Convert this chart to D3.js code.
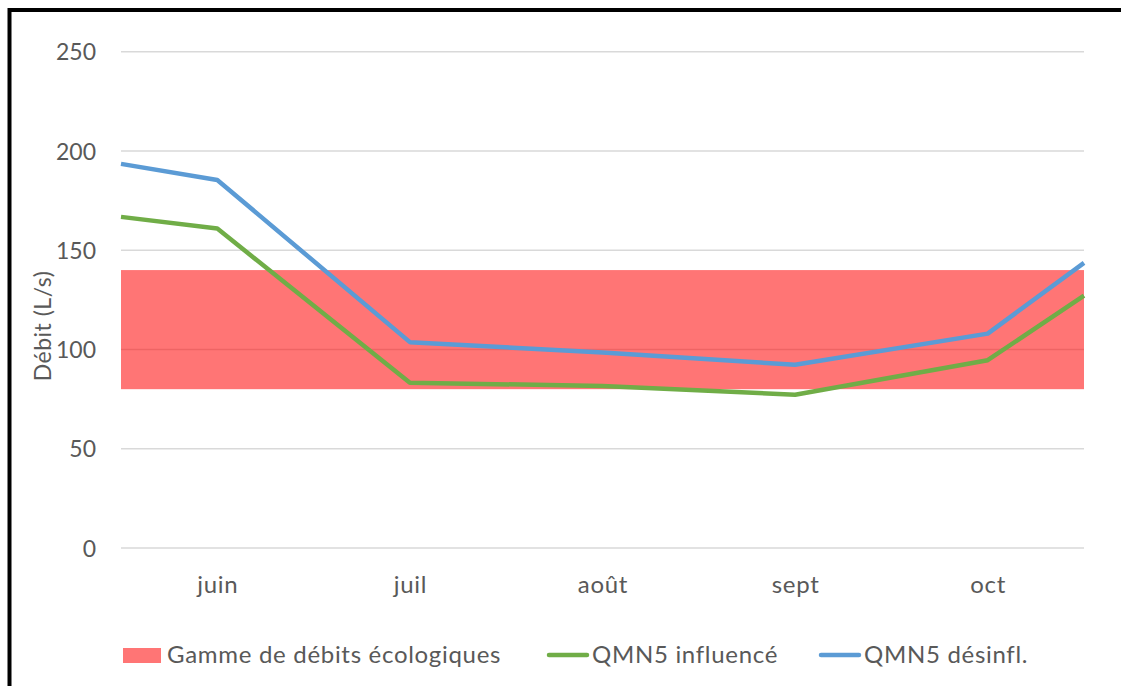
<!DOCTYPE html>
<html><head><meta charset="utf-8">
<script src="https://cdn.jsdelivr.net/npm/d3@7"></script>
<style>
html,body{margin:0;padding:0;background:#fff;}
svg{display:block;}
text{font-family:Lato,"Open Sans",sans-serif;fill:#595959;}
</style></head>
<body>
<svg id="chart" width="1121" height="686"></svg>
<script>
// Data
const categories = ["juin", "juil", "août", "sept", "oct"];
// line positions: plot edge (start), category centres, plot edge (end)
const xPositions = [-0.5, 0, 1, 2, 3, 4, 4.5];
const influence = [166.8, 160.9, 83.3, 81.6, 77.2, 94.6, 127.1];
const desinfl = [193.5, 185.4, 103.7, 98.5, 92.3, 108.0, 143.6];
const bandLow = 80;
const bandHigh = 140;
const yTicks = [0, 50, 100, 150, 200, 250];
const seriesNames = ["Gamme de débits écologiques", "QMN5 influencé", "QMN5 désinfl."];
const colors = {band: "rgba(255,0,0,0.54)", legendBand: "#FF7575", influence: "#70AD47", desinfl: "#5B9BD5"};

(function () {
const svg = d3.select("#chart");
const W = 1121, H = 686;
const pLeft = 121, pRight = 1084, pTop = 51.7, pBottom = 548;
const FONT = "Lato, 'Open Sans', sans-serif";

// frame
svg.append("rect").attr("x", 9.5).attr("y", 10).attr("width", W + 20).attr("height", H + 20)
  .attr("fill", "none").attr("stroke", "#000").attr("stroke-width", 4);

const x = d3.scaleLinear().domain([-0.5, 4.5]).range([pLeft, pRight]);
const y = d3.scaleLinear().domain([0, 250]).range([pBottom, pTop]);

// gridlines
svg.append("g").selectAll("line").data(yTicks).join("line")
  .attr("x1", pLeft).attr("x2", pRight)
  .attr("y1", d => y(d)).attr("y2", d => y(d))
  .attr("stroke", "#d9d9d9").attr("stroke-width", 1.5);

// band
svg.append("rect").attr("x", pLeft).attr("width", pRight - pLeft)
  .attr("y", y(bandHigh)).attr("height", y(bandLow) - y(bandHigh))
  .attr("fill", colors.band);

// y axis
const yAxis = d3.axisLeft(y).tickValues(yTicks).tickSize(0).tickPadding(0);
const gy = svg.append("g").attr("transform", `translate(96,0)`).call(yAxis);
gy.select(".domain").remove();
gy.selectAll("text").attr("font-size", 23).attr("dy", "0.35em")
  .style("font-family", FONT).attr("fill", "#595959");

// x axis
const xAxis = d3.axisBottom(x).tickValues(d3.range(categories.length))
  .tickFormat(i => categories[i]).tickSize(0).tickPadding(0);
const gx = svg.append("g").attr("transform", `translate(0,585)`).call(xAxis);
gx.select(".domain").remove();
gx.selectAll("text").attr("font-size", 24).attr("dy", "0.35em")
  .attr("letter-spacing", 0.7)
  .style("font-family", FONT).attr("fill", "#595959");

// axis title
svg.append("text").attr("transform", "translate(43,326) rotate(-90)")
  .attr("text-anchor", "middle").attr("dy", "0.35em").attr("font-size", 23)
  .attr("letter-spacing", 0.5)
  .text("Débit (L/s)");

// lines
const line = d3.line().x(d => x(d[0])).y(d => y(d[1]));
[[influence, colors.influence], [desinfl, colors.desinfl]].forEach(([vals, c]) => {
  svg.append("path").datum(xPositions.map((p, i) => [p, vals[i]]))
    .attr("d", line).attr("fill", "none").attr("stroke", c)
    .attr("stroke-width", 4.5).attr("stroke-linejoin", "round");
});

// legend
const ly = 655;
const legendText = (xx, t) => svg.append("text").attr("x", xx).attr("y", ly).attr("dy", "0.33em")
  .attr("font-size", 24).attr("letter-spacing", 0.7).text(t);
svg.append("rect").attr("x", 123).attr("y", 648).attr("width", 38).attr("height", 15).attr("fill", colors.legendBand);
legendText(167, seriesNames[0]);
svg.append("line").attr("x1", 549).attr("x2", 587).attr("y1", ly).attr("y2", ly)
  .attr("stroke", colors.influence).attr("stroke-width", 4.5).attr("stroke-linecap", "round");
legendText(592, seriesNames[1]);
svg.append("line").attr("x1", 821).attr("x2", 859).attr("y1", ly).attr("y2", ly)
  .attr("stroke", colors.desinfl).attr("stroke-width", 4.5).attr("stroke-linecap", "round");
legendText(864, seriesNames[2]);
})();
</script>
</body></html>
